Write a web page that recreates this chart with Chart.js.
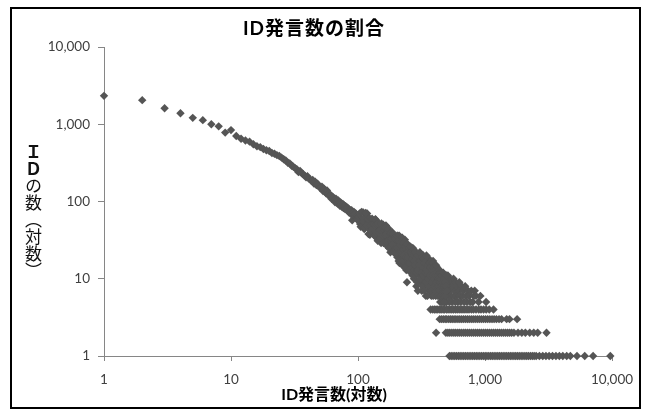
<!DOCTYPE html>
<html>
<head>
<meta charset="utf-8">
<script src="https://cdn.jsdelivr.net/npm/chart.js@4.4.1/dist/chart.umd.min.js"></script>
<style>
  body { margin: 0; background: #fff; }
  #wrap { position: relative; width: 650px; height: 416px; overflow: hidden; }
  #idChart { position: absolute; left: 0; top: 0; }
  #frame { position: absolute; left: 10px; top: 7px; width: 631px; height: 402px; border: 2px solid #000; box-sizing: border-box; pointer-events: none; }
  .lbl { position: absolute; font-family: Lato, 'Noto Sans CJK JP', sans-serif; color: #000; white-space: nowrap; }
  #chartTitle { left: 0; width: 628px; top: 16px; text-align: center; font-size: 19px; font-weight: bold; letter-spacing: 1px; line-height: 24px; }
  #xTitle { left: 0; width: 668px; top: 384px; text-align: center; font-size: 16px; font-weight: bold; line-height: 20px; }
  #yTitle { left: 24px; top: 143px; font-family: 'Noto Sans CJK JP', sans-serif; font-size: 17px; line-height: 18px; writing-mode: vertical-rl; color: #111; }
  #yTitle b { font-weight: bold; }
</style>
</head>
<body>
<div id="wrap">
  <canvas id="idChart" width="650" height="416"></canvas>
  <div id="frame"></div>
  <div id="chartTitle" class="lbl">ID発言数の割合</div>
  <div id="xTitle" class="lbl">ID発言数(対数)</div>
  <div id="yTitle" class="lbl"><b>ＩＤ</b>の数（対数）</div>
</div>
<script>
// axis ticks (both axes are log, 1 .. 10,000)
let tickVals = [1, 10, 100, 1000, 10000];

// posts per ID (x) and number of IDs (y): the upper curve, one point per count
let headX = [1,2,3,4,5,6,7,8,9,10,11,12,13,14,15,16,17,18,19,20,21,22,23,24,25,26,27,28,29,30,
  31,32,33,34,35,36,37,38,39,40,41,42,43,44,45,46,47,48,49,50,51,52,53,54,55,56,57,58,59,60,
  61,62,63,64,65,66,67,68,69,70,71,72,73,74,75,76,77,78,79,80,81,82,83,84,85,86,87,88,89,90,
  91,92,93,94,95,96,97,98,99,100];
let headY = [2330,2050,1610,1390,1210,1130,1000,940,780,840,705,650,615,595,550,
  520,505,478,460,450,425,416,398,388,370,352,340,318,312,290,
  282,270,262,240,248,232,226,218,205,212,
  198,192,186,190,171,180,163,170,158,152,149,155,137,146,135,128,139,122,126,117,
  121,108,115,112,104,98,109,101,94,103,96,88,97,92,85,93,82,89,80,87,
  79,84,76,81,72,78,74,69,77,57,71,66,73,68,63,70,61,66,59,64];

// the spread-out cloud (y >= 5), even counts / every third count
let cloudX = [102,104,106,108,110,112,114,116,118,120,122,124,126,128,130,132,134,136,138,140,
  142,144,146,148,150,152,154,156,158,160,162,164,166,168,170,172,174,176,178,180,
  182,184,186,188,190,192,194,196,198,200,
  202,204,206,208,210,212,214,216,218,220,222,224,226,228,230,232,234,236,238,240,
  242,244,246,248,250,252,254,256,258,260,262,264,266,268,270,272,274,276,278,280,
  282,284,286,288,290,292,294,296,298,300,
  303,306,309,312,315,318,321,324,327,330,333,336,339,342,345,348,351,354,357,360,
  363,366,369,372,375,378,381,384,387,390,393,396,399,402,405,408,411,414,417,420,
  423,426,429,432,435,438,441,444,447,450,453,456,459,462,465,468,471,474,477,480,
  483,486,489,492,495,498,501,
  505,510,515,520,525,530,535,540,546,552,558,565,570,577,584,590,598,605,612,620,
  628,636,645,655,665,675,686,698,710,722,735,750,765,780,800,820,830,850,890,920,
  1020,243];
let cloudY = [63,51,72,53,72,44,60,52,70,46,58,37,52,45,58,38,54,45,58,34,
  48,38,52,36,43,29,48,38,50,31,40,34,49,27,40,34,41,28,35,22,
  38,29,40,24,32,26,35,21,31,27,
  28,19,36,22,30,16,32,23,34,19,26,15,30,20,27,16,32,21,24,13,
  25,17,28,18,21,13,25,15,22,12,25,17,22,13,25,15,19,10,21,15,
  22,12,16,8,20,13,18,7,21,13,
  18,11,21,9,14,7,16,12,20,8,13,10,19,6,15,11,17,8,13,9,
  18,7,12,10,16,6,11,14,8,17,9,12,7,15,10,6,13,8,11,14,
  7,9,12,6,10,13,8,5,11,7,9,12,6,8,10,5,7,11,6,9,
  5,8,10,6,7,5,9,
  7,11,6,8,5,10,7,6,9,5,8,10,6,7,5,9,6,8,5,7,
  9,6,5,8,6,7,5,8,6,5,7,6,5,7,5,6,7,6,5,6,
  5,9];

// the rest of the cloud: odd counts / the other third
let oddX = [101,103,105,107,109,111,113,115,117,119,121,123,125,127,129,131,133,135,137,139,
  141,143,145,147,149,151,153,155,157,159,161,163,165,167,169,171,173,175,177,179,
  181,183,185,187,189,191,193,195,197,199,
  201,203,205,207,209,211,213,215,217,219,221,223,225,227,229,231,233,235,237,239,
  241,243,245,247,249,251,253,255,257,259,261,263,265,267,269,271,273,275,277,279,
  281,283,285,287,289,291,293,295,297,299,
  304,307,310,313,316,319,322,325,328,331,334,337,340,343,346,349,352,355,358,361,
  364,367,370,373,376,379,382,385,388,391,394,397,400,403,406,409,412,415,418,421,
  424,427,430,433,436,439,442,445,448,451,454,457,460,463,466,469,472,475,478,481,
  484,487,490,493,496,499];
let oddY = [56,70,47,73,56,60,45,71,49,59,38,61,49,42,60,44,51,36,59,39,
  51,31,52,40,43,34,52,36,46,29,42,37,46,30,38,31,45,25,38,31,
  39,26,33,28,38,23,33,24,33,25,
  22,36,25,31,17,36,22,28,17,30,23,34,17,24,20,30,14,26,19,24,
  14,28,16,22,19,25,13,22,16,26,13,22,18,23,11,20,14,24,13,17,
  15,22,11,19,12,17,9,20,13,17,
  15,22,10,17,12,19,8,14,11,18,7,16,12,9,20,13,6,15,10,12,
  8,16,11,14,7,13,9,16,11,6,14,10,8,13,11,7,15,9,12,6,
  11,8,13,10,7,12,9,6,10,12,8,5,11,7,9,12,6,8,10,5,
  7,9,6,8,11,7];

// the flat rows at the bottom: post counts that had exactly 4, 3, 2, 1 IDs
let row4X = [373,388,401,412,425,441,452,468,480,497,512,530,548,566,585,604,626,648,671,695,
  722,748,781,812,850,893,930,975,1022,1080,1167];
let row3X = [440,455,470,486,500,518,535,552,571,590,612,633,655,678,702,727,752,780,808,838,
  870,902,936,972,1010,1050,1092,1136,1180,1230,1290,1350,1480,1560,1790];
let row2X = [412,492,510,528,548,568,588,610,632,655,680,704,730,757,785,814,844,875,907,940,
  975,1011,1048,1087,1127,1168,1211,1256,1302,1350,1400,1452,1505,1560,1620,1690,1820,1950,2080,2250,
  2420,2600,3050];
let row1X = [525,542,560,578,597,617,637,658,680,702,725,749,774,800,826,853,881,910,940,971,
  1003,1036,1070,1106,1142,1180,1219,1260,1301,1344,1389,1435,1482,1531,1582,1634,1690,1745,1800,1860,
  1925,1990,2060,2130,2200,2280,2360,2440,2530,2680,2850,3020,3200,3400,3620,3850,4100,4400,4700,5300,
  6100,7100,9700];
let rowLevels = [4, 3, 2, 1];

// build the point list from the arrays
let points = [];
headX.forEach((x, i) => points.push({ x: x, y: headY[i] }));
cloudX.forEach((x, i) => points.push({ x: x, y: cloudY[i] }));
oddX.forEach((x, i) => points.push({ x: x, y: oddY[i] }));
[row4X, row3X, row2X, row1X].forEach((xs, r) => {
  xs.forEach(x => points.push({ x: x, y: rowLevels[r] }));
});

const tickFont = { family: 'Lato, "Noto Sans CJK JP", sans-serif', size: 13.5 };
const axisGray = '#868686';

const ctx = document.getElementById('idChart').getContext('2d');
const idChart = new Chart(ctx, {
  type: 'scatter',
  data: {
    datasets: [{
      label: 'IDの数',
      data: points,
      pointStyle: 'rectRot',
      pointRadius: 4.2,
      pointHoverRadius: 4.2,
      backgroundColor: '#555555',
      borderColor: '#555555',
      borderWidth: 0,
      clip: false
    }]
  },
  options: {
    responsive: false,
    animation: false,
    devicePixelRatio: 1,
    layout: { padding: { top: 47, right: 38, left: 0, bottom: 0 } },
    plugins: {
      legend: { display: false },
      tooltip: { enabled: false }
    },
    scales: {
      x: {
        type: 'logarithmic',
        min: 1,
        max: 10000,
        afterBuildTicks: s => { s.ticks = tickVals.map(v => ({ value: v })); },
        afterFit: s => { s.height = 60; },
        grid: { drawOnChartArea: false, drawTicks: true, tickLength: 5, color: axisGray },
        border: { color: axisGray },
        ticks: {
          padding: 11,
          color: '#404040',
          font: tickFont,
          maxRotation: 0,
          callback: v => Number(v).toLocaleString('en-US')
        }
      },
      y: {
        type: 'logarithmic',
        min: 1,
        max: 10000,
        afterBuildTicks: s => { s.ticks = tickVals.map(v => ({ value: v })); },
        afterFit: s => { s.width = 104; },
        grid: { drawOnChartArea: false, drawTicks: true, tickLength: 6, color: axisGray },
        border: { color: axisGray },
        ticks: {
          padding: 8,
          color: '#404040',
          font: tickFont,
          callback: v => Number(v).toLocaleString('en-US')
        }
      }
    }
  }
});
</script>
</body>
</html>
